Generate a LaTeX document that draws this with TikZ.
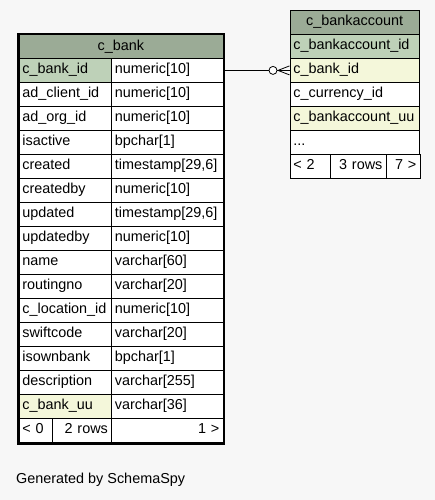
\documentclass[tikz,border=0pt]{standalone}
\usepackage{fontspec}
\setmainfont{Liberation Sans}
\usetikzlibrary{calc,fit}
\definecolor{bgc}{HTML}{F7F7F7}
\definecolor{headc}{HTML}{9BAB96}
\definecolor{pkc}{HTML}{BED1B8}
\definecolor{fkc}{HTML}{F4F7DA}
\tikzset{
  cellbase/.style={draw=black, line width=0.8pt, rectangle, inner ysep=0pt, inner xsep=3.5pt,
    minimum height=24pt, text height=10pt, text depth=3pt, anchor=north west,
    font=\fontsize{14.4}{16}\selectfont},
  pk/.style={fill=pkc},
  fk/.style={fill=fkc},
  nokey/.style={fill=white},
  headcell/.style={cellbase, fill=headc, align=center},
  lcell/.style={cellbase, text width=85.5pt, align=left},
  rcell/.style={cellbase, fill=white, text width=104.5pt, align=left},
  acell/.style={cellbase, text width=122.5pt, align=left},
  conn/.style={draw=black, line width=0.8pt},
}
\begin{document}
\begin{tikzpicture}[x=1pt,y=-1pt]
\useasboundingbox (0,0) rectangle (435,500);
\fill[bgc] (0,0) rectangle (435,500);

% ---- c_bank ----
\node[headcell, text width=197pt] (bh) at (18.5,34.5) {c\_bank};
\foreach \n/\t/\f [count=\i from 0] in {
  c\_bank\_id/numeric[10]/pk,
  ad\_client\_id/numeric[10]/nokey,
  ad\_org\_id/numeric[10]/nokey,
  isactive/bpchar[1]/nokey,
  created/{timestamp[29,6]}/nokey,
  createdby/numeric[10]/nokey,
  updated/{timestamp[29,6]}/nokey,
  updatedby/numeric[10]/nokey,
  name/varchar[60]/nokey,
  routingno/varchar[20]/nokey,
  c\_location\_id/numeric[10]/nokey,
  swiftcode/varchar[20]/nokey,
  isownbank/bpchar[1]/nokey,
  description/varchar[255]/nokey,
  c\_bank\_uu/varchar[36]/fk}{
  \node[lcell,\f] (bk\i) at (18.5,{58+24*\i}) {\n};
  \node[rcell] (bt\i) at (111,{58+24*\i}) {\t};
}
\node[cellbase, fill=white, text width=26.5pt, align=left] (bf1) at (18.5,418) {< 0};
\node[cellbase, fill=white, text width=52pt, align=right] (bf2) at (52,418) {2 rows};
\node[cellbase, fill=white, text width=104.5pt, align=right] (bf3) at (111,418) {1 >};
\node[draw=black, line width=2.6pt, inner sep=0.6pt, fit=(bh)(bf1)(bf3)] (bframe) {};

% ---- c_bankaccount ----
\node[headcell, text width=122.5pt] (ah) at (289.5,10) {c\_bankaccount};
\node[acell,pk] (ak0) at (289.5,34) {c\_bankaccount\_id};
\node[acell,fk] (ak1) at (289.5,58) {c\_bank\_id};
\node[acell,nokey] (ak2) at (289.5,82) {c\_currency\_id};
\node[acell,fk] (ak3) at (289.5,106) {c\_bankaccount\_uu};
\node[acell,nokey] (ak4) at (289.5,130) {...};
\node[cellbase, fill=white, text width=33pt, align=left] (af1) at (289.5,154) {< 2};
\node[cellbase, fill=white, text width=49pt, align=right] (af2) at (329.5,154) {3 rows};
\node[cellbase, fill=white, text width=27pt, align=right] (af3) at (385.5,154) {7 >};

% ---- connector ----
\draw[conn] (bt0.east) -- (ak1.west);
\coordinate (crow) at ($(ak1.west)+(-11.5,0)$);
\draw[conn] (crow) -- ($(ak1.west)+(0,-4.5)$);
\draw[conn] (crow) -- ($(ak1.west)+(0,4.5)$);
\draw[conn, fill=white] ($(ak1.west)+(-16.5,0)$) circle (4);

\node[anchor=west, inner sep=0pt, font=\fontsize{14.4}{16}\selectfont] (gen) at (16,480) {Generated by SchemaSpy};
\end{tikzpicture}
\end{document}
